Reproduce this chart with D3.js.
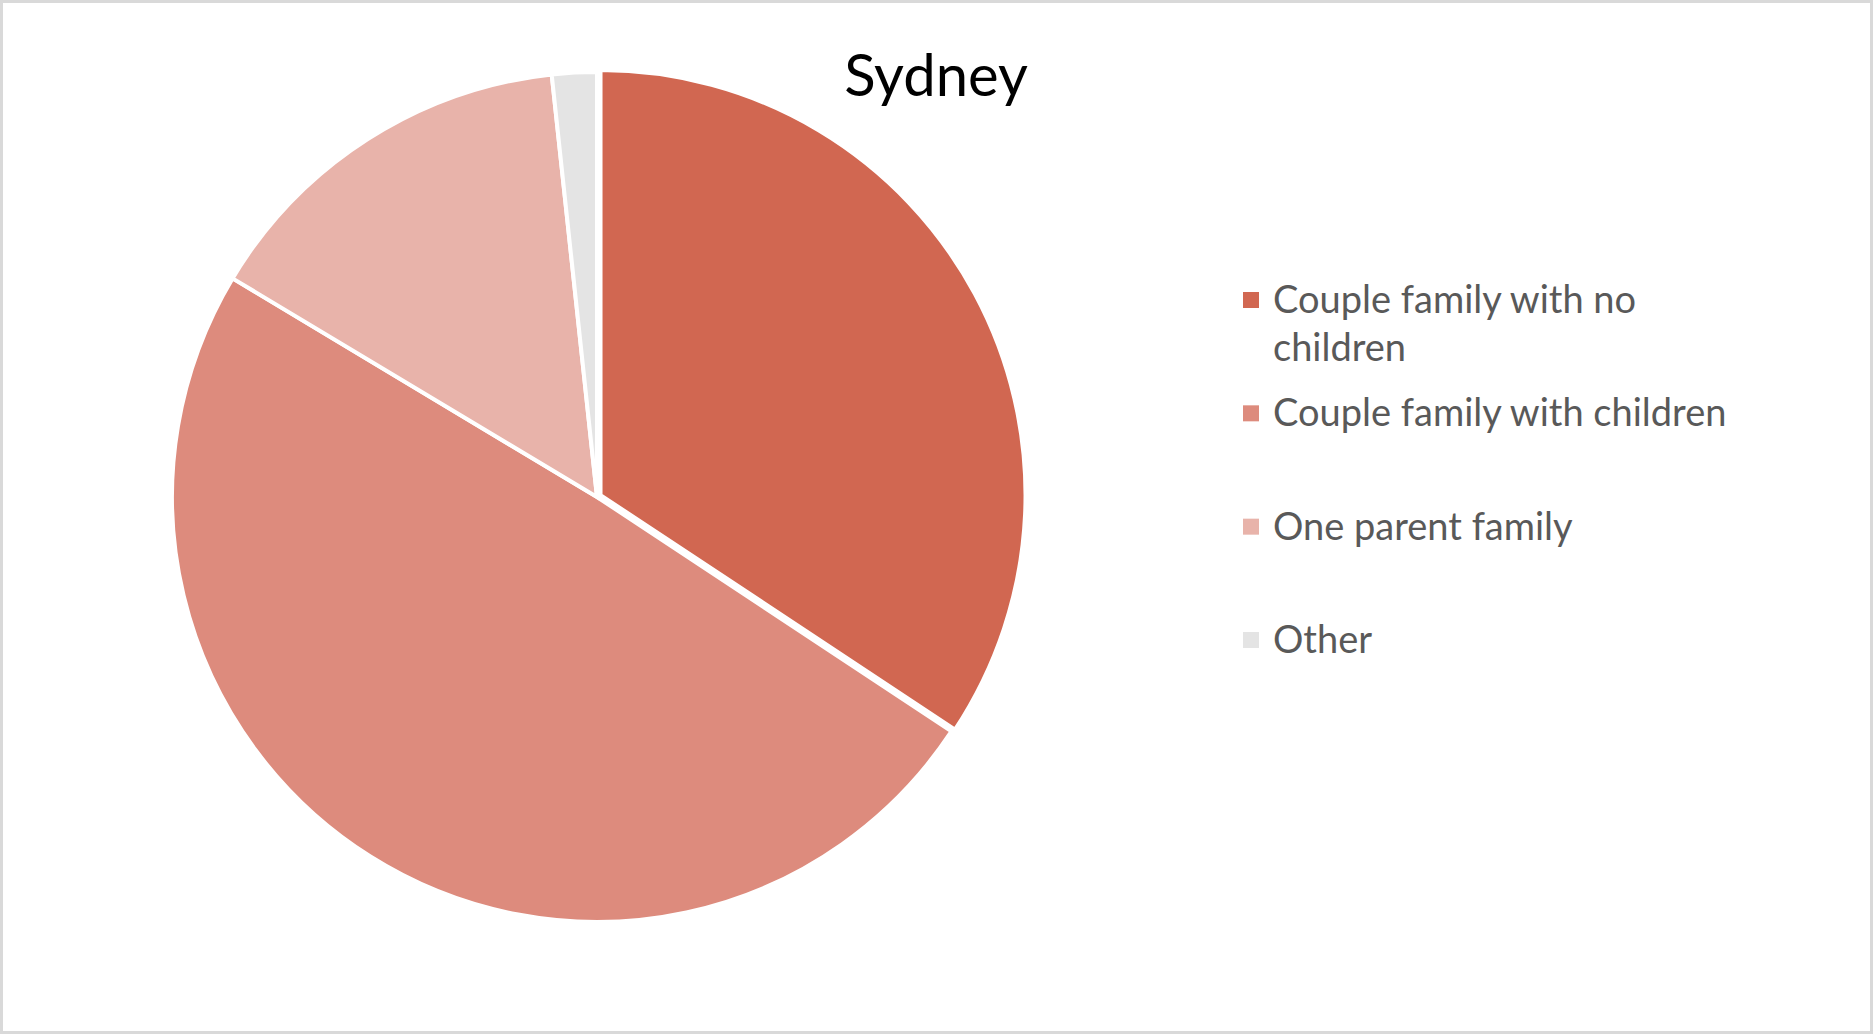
<!DOCTYPE html>
<html>
<head>
<meta charset="utf-8">
<script src="https://cdn.jsdelivr.net/npm/d3@7"></script>
<style>
  html, body { margin: 0; padding: 0; background: #fff; }
  svg { display: block; }
</style>
</head>
<body>
<svg id="chart" width="1873" height="1034"></svg>
<script>
// Data
const title = "Sydney";
const categories = ["Couple family with no children", "Couple family with children", "One parent family", "Other"];
const values = [34.3, 49.3, 14.7, 1.7];
const colors = ["#D16751", "#DD8B7D", "#E8B3AA", "#E4E4E4"];

const W = 1873, H = 1034;
const svg = d3.select("#chart");

// border
svg.append("rect")
  .attr("x", 1.5).attr("y", 1.5)
  .attr("width", W - 3).attr("height", H - 3)
  .attr("fill", "#fff")
  .attr("stroke", "#D9D9D9")
  .attr("stroke-width", 3);

// title
svg.append("text")
  .attr("x", 936).attr("y", 96)
  .attr("text-anchor", "middle")
  .attr("font-family", "Lato, 'Open Sans', sans-serif")
  .attr("font-size", 58)
  .attr("fill", "#000")
  .text(title);

// pie
const cx = 597, cy = 497, R = 425;
const data = categories.map((c, i) => ({ name: c, value: values[i], color: colors[i] }));
const pie = d3.pie().value(d => d.value).sort(null).startAngle(0).endAngle(2 * Math.PI);
const arc = d3.arc().innerRadius(0).outerRadius(R);
const explode = [4, 0, 0, 0];

const g = svg.append("g").attr("transform", `translate(${cx},${cy})`);
g.selectAll("path")
  .data(pie(data))
  .join("path")
  .attr("d", arc)
  .attr("fill", d => d.data.color)
  .attr("stroke", "#fff")
  .attr("stroke-width", 4)
  .attr("stroke-linejoin", "miter")
  .attr("transform", (d, i) => {
    const a = (d.startAngle + d.endAngle) / 2;
    const e = explode[i];
    return `translate(${e * Math.sin(a)},${-e * Math.cos(a)})`;
  });

// legend
const legendX = 1243, markerSize = 16;
const legendY = d3.scalePoint().domain(categories).range([300, 640]);
const fontSize = 38;
const lineH = 48;
const maxW = 470;

const lg = svg.append("g");
categories.forEach((c, i) => {
  const y = legendY(c);
  lg.append("rect")
    .attr("x", legendX).attr("y", y - markerSize / 2)
    .attr("width", markerSize).attr("height", markerSize)
    .attr("fill", colors[i]);
  const t = lg.append("text")
    .attr("x", legendX + 30)
    .attr("y", y + 13)
    .attr("font-family", "Lato, 'Open Sans', sans-serif")
    .attr("font-size", fontSize)
    .attr("fill", "#595959");
  // word wrap
  const words = c.split(" ");
  let line = [];
  let tspan = t.append("tspan").attr("x", legendX + 30).attr("dy", 0);
  words.forEach(w => {
    line.push(w);
    tspan.text(line.join(" "));
    if (tspan.node().getComputedTextLength() > maxW && line.length > 1) {
      line.pop();
      tspan.text(line.join(" "));
      line = [w];
      tspan = t.append("tspan").attr("x", legendX + 30).attr("dy", lineH).text(w);
    }
  });
});
</script>
</body>
</html>
